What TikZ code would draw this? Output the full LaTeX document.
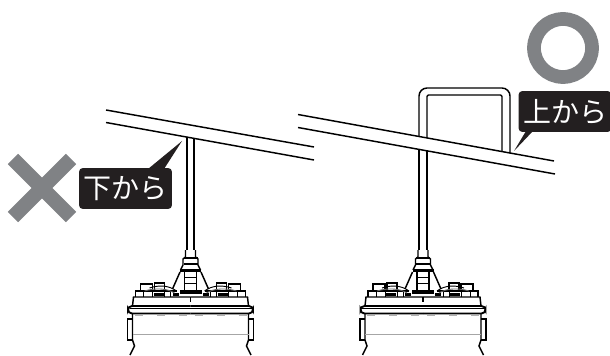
\documentclass[tikz,border=0pt]{standalone}
\usepackage{fontspec}
\newfontfamily\jpfont{Noto Sans CJK JP}
\usepackage{xcolor}
\usepackage{tikz}
\usetikzlibrary{positioning}
\definecolor{markgray}{HTML}{808285}
\definecolor{tagblack}{HTML}{231F20}
\tikzset{
  wire/.style={line width=1.1pt},
  fine/.style={line width=0.7pt},
  tag/.style={fill=tagblack, text=white, rounded corners=2.5pt, font=\jpfont\fontsize{21}{21}\selectfont, inner sep=0pt, minimum height=30.5pt},
}
\begin{document}
\begin{tikzpicture}[yscale=-1, x=0.75pt, y=0.75pt]
\useasboundingbox (0,0) rectangle (610,356);
% left: rail and pipe from below
\draw[wire] (106,110) -- (314,147); \draw[wire] (106,122.5) -- (314,160);
\draw[wire] (187,137) -- (187,250); \draw[wire] (194,138.4) -- (194,250);
% right: rail and pipe from above
\draw[wire] (298,114.5) -- (554,161); \draw[wire] (298,127.5) -- (555,174);
\draw[wire, rounded corners=6pt] (419,136.5) -- (419,88) -- (510,88) -- (510,153.5);
\draw[wire, rounded corners=1pt] (427,138) -- (427,95) -- (502,95) -- (502,152);
\draw[wire] (419,149.5) -- (419,250); \draw[wire] (427,151) -- (427,250);
% batteries
\foreach \cx in {190.5,423} {
\begin{scope}[xshift=\cx*0.75pt]
\foreach \s in {-1,1} {
\begin{scope}[xscale=\s]
\draw[wire] (5,250) -- (5,257) -- (7.5,259) -- (7.5,265) -- (10,270);
\draw[line width=1.8pt] (0,258) -- (7,258); \draw[wire] (0,264) -- (7,264);
\draw[line width=2.8pt] (0,270.5) -- (10.5,270.5);
\draw[wire] (6,272) -- (6,290); \draw[fine] (0,277) -- (6,277); \draw[fine] (0,283) -- (6,283);
\draw[wire] (10.5,272) -- (18,289);
\draw[line width=2.4pt] (0,292) -- (11,292);
% terminals
\draw[wire] (55,297) -- (55,291) -- (49,291); \draw[wire] (50,291) -- (50,284) -- (38,284) -- (38,291);
\draw[wire] (36,291) -- (36,283) -- (26,283) -- (26,291);
\draw[wire] (50,291) -- (14,291);
\draw[fine] (47,291) -- (47,297); \draw[fine] (38,291) -- (38,297); \draw[fine] (26,291) -- (26,297); \draw[fine] (20,291) -- (20,297);
\draw[line width=2.2pt] (27,294.5) -- (37,294.5); \draw[line width=1.8pt] (12,294.5) -- (18,294.5);
\draw[fine] (14,291) .. controls (22,285) and (32,285) .. (41,288);
\draw[fine, black!60] (16,293) .. controls (24,288) and (36,288) .. (46,291);
% case
\draw[wire] (0,297) -- (57,297) -- (58,306);
\draw[line width=1.4pt, rounded corners=3pt] (0,306) -- (62.5,306) -- (62.5,313.5) -- (0,313.5);
\draw[fine] (0,308) -- (61,308);
\draw[wire] (58,314) -- (58,340) -- (56,346) -- (60.5,355);
\draw[wire] (58,319) -- (63,319) -- (63,340) -- (58,340);
\draw[line width=0.8pt, black!35] (0,334.5) -- (58,334.5);
\foreach \d in {8,30,52} {\draw[line width=0.8pt, black!30] (\d-4,315.5) -- (\d+4,315.5);}
\end{scope}
}
\draw[wire] (0,297) -- (0,302);
\end{scope}
}
% marks
\draw[markgray, line width=10.9pt] (13,159) -- (71,217); \draw[markgray, line width=10.9pt] (71,159) -- (13,217);
\draw[markgray, line width=10.3pt] (563,48) circle (29);
% labels
\node[tag, minimum width=69.5pt] (tagbelow) at (125.5,188.5) {下から};
\coordinate (tipbelow) at (182,141);
\fill[tagblack] (148,169) -- (tipbelow) -- (164,169) -- cycle;
\node[tag, minimum width=69.5pt] (tagabove) at (565,111.5) {上から};
\coordinate (tipabove) at (514,151);
\fill[tagblack] (526,131) -- (tipabove) -- (533,131) -- cycle;
\end{tikzpicture}
\end{document}
